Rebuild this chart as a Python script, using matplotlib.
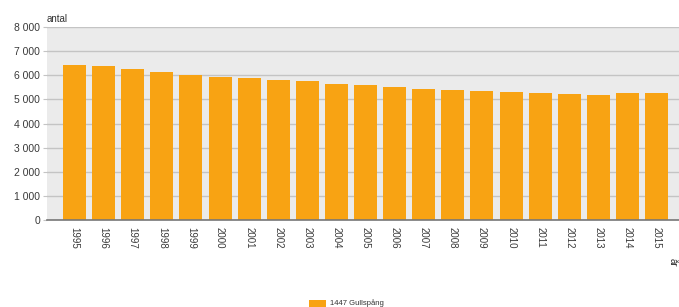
import matplotlib
matplotlib.use("Agg")
import matplotlib.pyplot as plt
from matplotlib.patches import Rectangle

years = ["1995", "1996", "1997", "1998", "1999", "2000", "2001", "2002", "2003", "2004",
         "2005", "2006", "2007", "2008", "2009", "2010", "2011", "2012", "2013", "2014", "2015"]
values = [6410, 6380, 6260, 6140, 6000, 5940, 5890, 5800, 5760, 5650,
          5600, 5530, 5430, 5380, 5350, 5320, 5250, 5220, 5200, 5250, 5250]
yticks = [0, 1000, 2000, 3000, 4000, 5000, 6000, 7000, 8000]
ytick_labels = ["0", "1 000", "2 000", "3 000", "4 000", "5 000", "6 000", "7 000", "8 000"]
series_name = "1447 Gullspång"

plt.rcParams['font.family'] = ['Liberation Sans', 'DejaVu Sans']
W, H = 679, 307
fig = plt.figure(figsize=(W / 100, H / 100), dpi=100)
fig.patch.set_facecolor("white")

left, right, top, bottom = 47, 679, 27, 220
ax = fig.add_axes([left / W, 1 - bottom / H, (right - left) / W, (bottom - top) / H])
ax.set_facecolor("#ebebeb")

bar_color = "#f8a313"
x = list(range(len(years)))
ax.bar(x, values, width=0.79, color=bar_color, zorder=3)

ax.set_ylim(0, 8000)
ax.set_xlim(-0.945, len(years) - 1 + 0.77)
ax.set_yticks(yticks)
ax.set_yticklabels(ytick_labels, fontsize=7.5, color="#3a3a3a")
ax.yaxis.grid(True, color="#c4c4c4", linewidth=1, zorder=1)
ax.tick_params(axis="y", length=3, color="#c4c4c4", pad=2)
ax.set_xticks(x)
ax.set_xticklabels(years, rotation=-90, fontsize=7, color="#3a3a3a")
ax.tick_params(axis="x", length=0, pad=5)
for s in ["top", "right", "left"]:
    ax.spines[s].set_visible(False)
ax.spines["bottom"].set_color("#777777")
ax.spines["bottom"].set_linewidth(1.2)
ax.spines["bottom"].set_zorder(4)

fig.text(47 / W, 1 - 19 / H, "antal", fontsize=7, color="#333333", ha="left", va="center")
fig.text(673 / W, 1 - 262 / H, "år", fontsize=7, color="#333333", ha="center", va="center", rotation=-90)

# legend
fig.patches.append(Rectangle((309 / W, 1 - 307 / H), 17 / W, 7 / H, transform=fig.transFigure,
                             facecolor=bar_color, edgecolor="none"))
fig.text(330 / W, 1 - 303 / H, series_name, fontsize=5.5, color="#333333", ha="left", va="center")

fig.savefig("out.png", dpi=100, facecolor="white")
